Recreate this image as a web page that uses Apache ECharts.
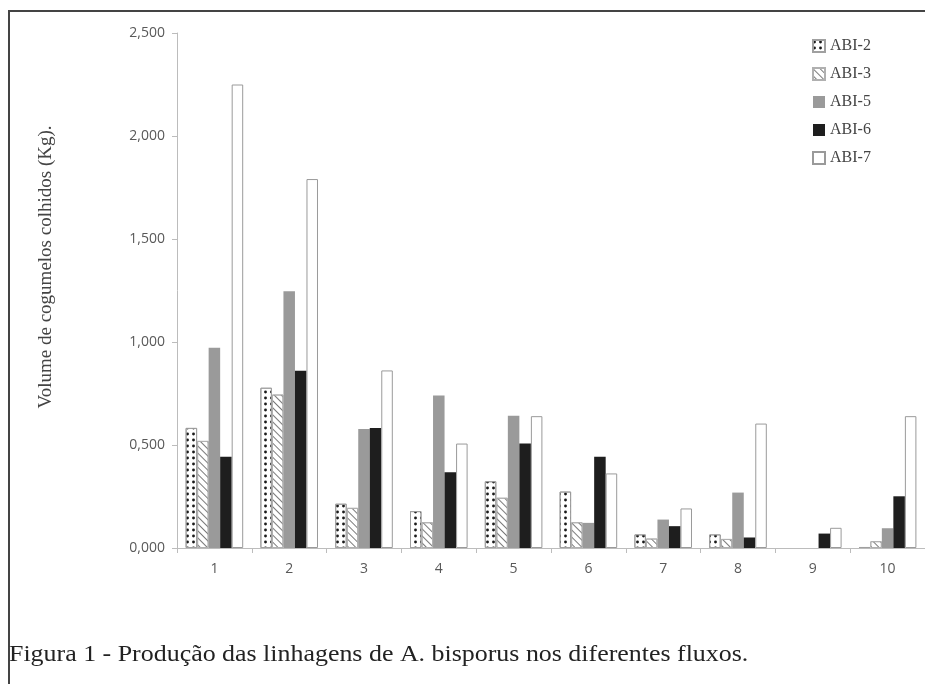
<!DOCTYPE html>
<html>
<head>
<meta charset="utf-8">
<script src="https://cdn.jsdelivr.net/npm/echarts@6/dist/echarts.min.js"></script>
<style>
html,body{margin:0;padding:0;background:#fff;}
#chart{width:925px;height:684px;}
</style>
</head>
<body>
<div id="chart"></div>
<script>
var categories = ['1','2','3','4','5','6','7','8','9','10'];
var seriesNames = ['ABI-2','ABI-3','ABI-5','ABI-6','ABI-7'];
var abi2 = [0.583, 0.778, 0.215, 0.179, 0.324, 0.274, 0.066, 0.066, 0, 0.005];
var abi3 = [0.520, 0.745, 0.195, 0.125, 0.244, 0.125, 0.046, 0.044, 0, 0.033];
var abi5 = [0.972, 1.246, 0.578, 0.740, 0.642, 0.122, 0.138, 0.269, 0, 0.096];
var abi6 = [0.443, 0.860, 0.582, 0.368, 0.507, 0.443, 0.106, 0.051, 0.070, 0.251];
var abi7 = [2.250, 1.791, 0.862, 0.507, 0.640, 0.362, 0.192, 0.604, 0.098, 0.640];
var yTicks = [0, 0.5, 1.0, 1.5, 2.0, 2.5];
var yTitle = 'Volume de cogumelos colhidos (Kg).';
var caption = 'Figura 1 - Produção das linhagens de A. bisporus nos diferentes fluxos.';

var chart = echarts.init(document.getElementById('chart'), null, {renderer:'canvas'});
var sans = '"Open Sans", sans-serif';
var serif = '"Liberation Serif", "DejaVu Serif", serif';

var styles = [
  {color:'#ffffff', borderColor:'#a0a0a0', borderWidth:1,
   decal:{symbol:'circle', symbolSize:0.95, symbolKeepAspect:false, color:'#1a1a1a',
          dashArrayX:[2.4,3], dashArrayY:[3.4,1.6]}},
  {color:'#ffffff', borderColor:'#b0b0b0', borderWidth:1,
   decal:{symbol:'rect', symbolSize:1, color:'#7a7a7a',
          dashArrayX:[1,0], dashArrayY:[1,3.5], rotation:Math.PI/4}},
  {color:'#9a9a9a', borderColor:'#9a9a9a', borderWidth:0},
  {color:'#1e1e1e', borderColor:'#1e1e1e', borderWidth:0},
  {color:'#ffffff', borderColor:'#9a9a9a', borderWidth:1}
];
var dataSets = [abi2, abi3, abi5, abi6, abi7];

var series = seriesNames.map(function(n,i){
  return {
    name:n, type:'bar',
    data:dataSets[i].map(function(v){ return v === 0 ? '-' : v; }),
    barGap:'0%', barCategoryGap:'23%',
    itemStyle:styles[i],
    emphasis:{disabled:true}
  };
});

chart.setOption({
  animation:false,
  backgroundColor:'#ffffff',
  legend:{
    orient:'vertical', left:807, top:33,
    itemWidth:12, itemHeight:12, itemGap:12,
    icon:'rect',
    textStyle:{fontFamily:serif, fontSize:16, color:'#444'},
    data:seriesNames
  },
  grid:{left:177, top:33, width:750, height:515, containLabel:false},
  xAxis:{
    type:'category', data:categories,
    axisLine:{lineStyle:{color:'#bcbcbc', width:1}},
    axisTick:{show:true, length:5, lineStyle:{color:'#bcbcbc'}},
    axisLabel:{fontFamily:sans, fontSize:14, color:'#595959', margin:14}
  },
  yAxis:{
    type:'value', min:0, max:2.5, interval:0.5,
    axisLine:{show:true, lineStyle:{color:'#bcbcbc', width:1}},
    axisTick:{show:true, length:5, lineStyle:{color:'#bcbcbc'}},
    splitLine:{show:false},
    axisLabel:{fontFamily:sans, fontSize:14, color:'#595959', margin:12,
      formatter:function(v){ return v.toFixed(3).replace('.', ','); }}
  },
  graphic:[
    {type:'rect', shape:{x:9, y:11, width:1000, height:1000},
     style:{fill:'none', stroke:'#444', lineWidth:2}, silent:true},
    {type:'text', x:46, y:267, rotation:Math.PI/2,
     style:{text:yTitle, fontFamily:serif, fontSize:19, fill:'#444',
            textAlign:'center', textVerticalAlign:'middle'}},
    {type:'text', x:9, y:655, scaleX:1.08,
     style:{text:caption, fontFamily:serif, fontSize:24, fill:'#222',
            textAlign:'left', textVerticalAlign:'middle'}}
  ],
  series:series
});
</script>
</body>
</html>
